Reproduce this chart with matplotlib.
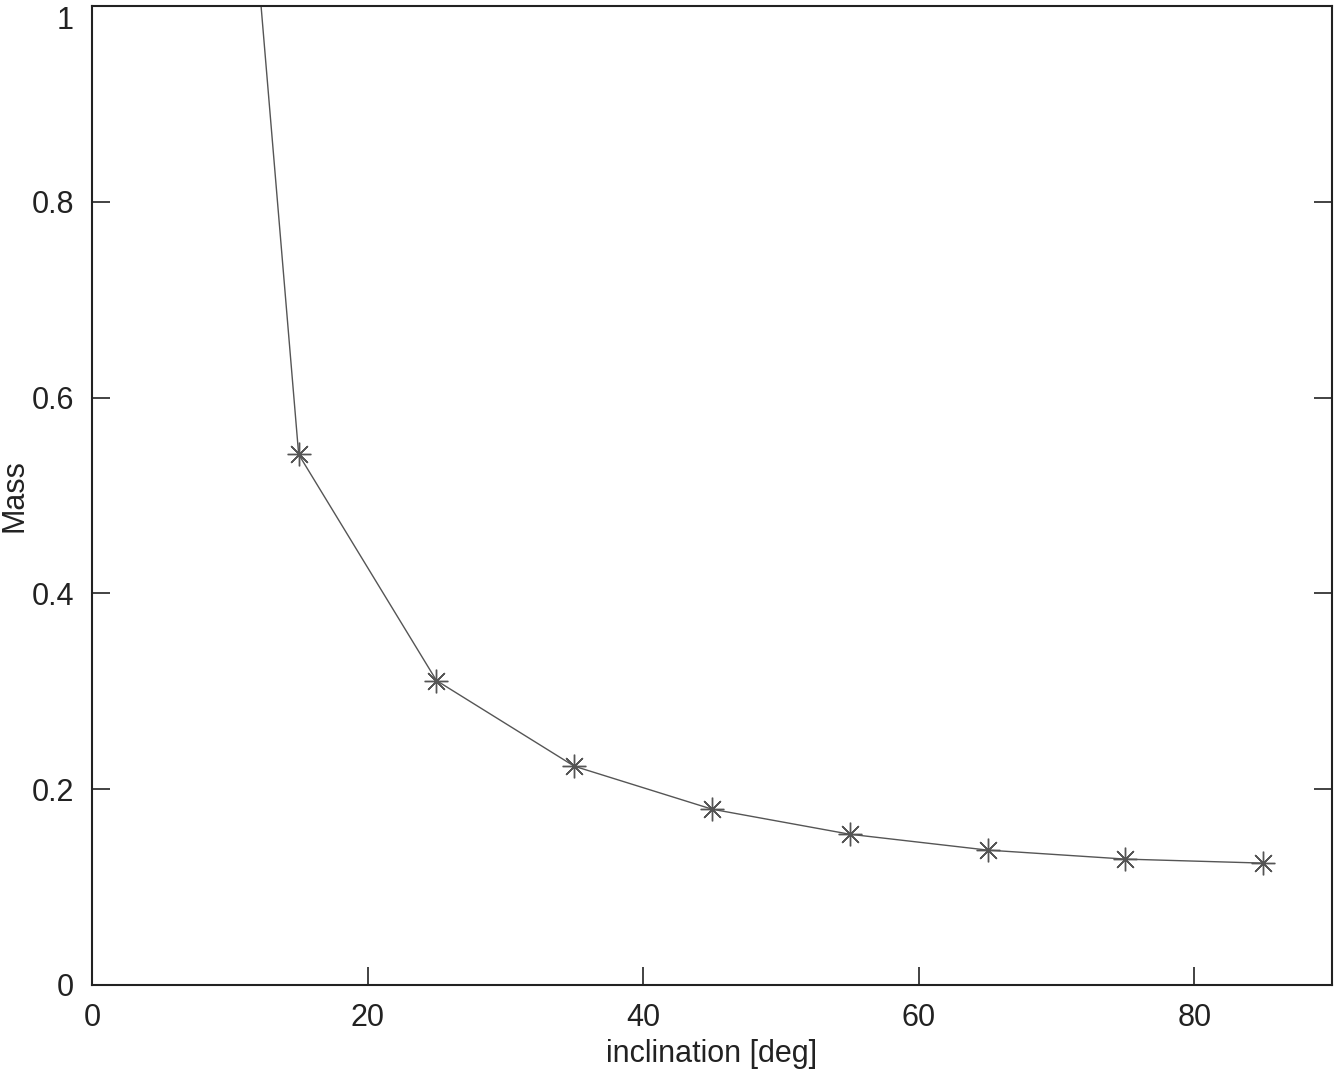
import matplotlib.pyplot as plt

plt.rcParams['font.family'] = ['Liberation Sans', 'DejaVu Sans']

inclination = [5, 15, 25, 35, 45, 55, 65, 75, 85]
mass = [2.22, 0.542, 0.311, 0.2235, 0.1796, 0.154, 0.1378, 0.1286, 0.1245]

fig = plt.figure(figsize=(13.34, 10.70), dpi=100)
ax = fig.add_axes([92 / 1334, 1 - 985 / 1070, 1240 / 1334, 979 / 1070])

ax.plot(inclination, mass, color='#555555', linewidth=1.0,
        marker=(8, 2, 0), markersize=17, markeredgewidth=1.0,
        markeredgecolor='#555555', clip_on=True)

ax.set_xlim(0, 90)
ax.set_ylim(0, 1)
ax.set_xticks([0, 20, 40, 60, 80])
ax.set_yticks([0, 0.2, 0.4, 0.6, 0.8, 1])
ax.set_yticklabels(['0', '0.2', '0.4', '0.6', '0.8', '1'])
ax.tick_params(direction='in', length=13, width=1.2, top=False, right=True,
               labelsize=22, colors='#222222', pad=13)
for s in ax.spines.values():
    s.set_color('#222222')
    s.set_linewidth(1.5)

# keep the top label inside the figure
ax.get_yticklabels()[-1].set_va('top')

ax.set_xlabel('inclination [deg]', fontsize=22, color='#222222', labelpad=4)
ax.set_ylabel('Mass', fontsize=22, color='#222222')
ax.yaxis.set_label_coords(-62 / 1240, 0.5)

fig.savefig('out.png', dpi=100)
